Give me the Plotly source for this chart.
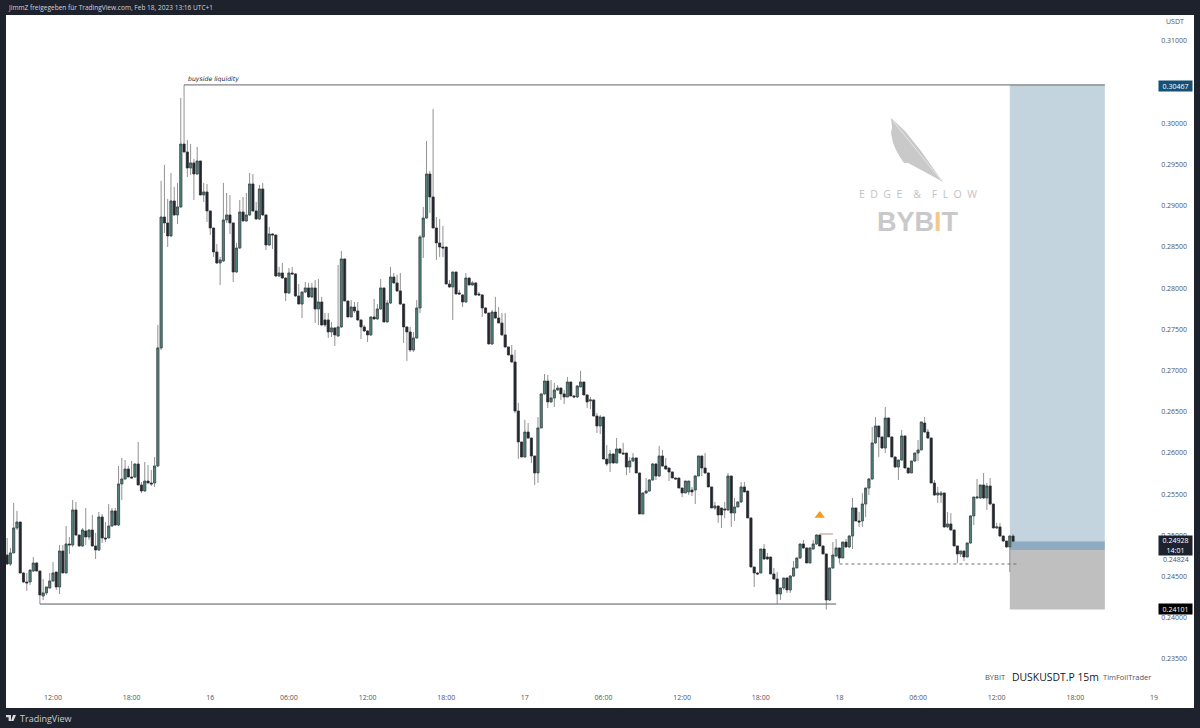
import pandas as pd
import plotly.graph_objects as go

opens = [
.24762,.24653,.24787,.25090,.25163,.24544,.24435,.24435,.24568,.24665,
.24568,.24265,.24302,.24362,.24447,.24556,.24374,.24811,.24544,.24896,
.24884,.25309,.25005,.24872,.25054,.24981,.25066,.24872,.24823,.25224,
.24969,.24969,.25114,.25297,.25126,.25624,.25685,.25806,.25709,.25709,
.25867,.25612,.25539,.25660,.25636,.25636,.25843,.27275,.28864,.28792,
.28634,.29059,.28889,.28986,.29750,.29653,.29459,.29520,.29386,.29544,
.29131,.29168,.28938,.28731,.28440,.28306,.28331,.28828,.28889,.28792,
.28197,.28488,.28925,.28816,.28889,.29265,.28938,.28840,.29204,.28889,
.28525,.28658,.28646,.28148,.28185,.28124,.27942,.28185,.28173,.27906,
.27808,.27954,.28003,.27894,.28003,.27748,.27833,.27615,.27615,.27469,
.27518,.27420,.27530,.28355,.27845,.27651,.27772,.27724,.27615,.27530,
.27481,.27433,.27651,.27627,.27748,.28003,.27590,.27820,.28136,.28064,
.27967,.27808,.27530,.27469,.27250,.27396,.27760,.28622,.28852,.29386,
.29107,.28731,.28549,.28500,.28500,.28051,.28015,.28197,.27942,.27918,
.27833,.28124,.28039,.28064,.27930,.27918,.27760,.27699,.27323,.27711,
.27639,.27578,.27433,.27287,.27189,.27105,.26510,.26134,.25952,.26255,
.26182,.25964,.25758,.26304,.26717,.26874,.26620,.26668,.26765,.26789,
.26717,.26680,.26862,.26692,.26680,.26801,.26862,.26705,.26632,.26644,
.26449,.26328,.26437,.25927,.25879,.25988,.25879,.26049,.26000,.26000,
.25830,.25903,.25940,.25758,.25260,.25515,.25539,.25673,.25867,.25721,
.25964,.25843,.25818,.25770,.25697,.25697,.25575,.25515,.25527,.25551,
.25551,.25721,.25964,.25818,.25758,.25588,.25333,.25357,.25333,.25321,
.25309,.25721,.25272,.25345,.25406,.25588,.25539,.25212,.24617,.24544,
.24544,.24835,.24738,.24738,.24532,.24471,.24289,.24362,.24483,.24338,
.24507,.24605,.24726,.24896,.24848,.24665,.24835,.24896,.25005,.24872,
.24775,.24216,.24605,.24750,.24848,.24726,.24920,.24860,.24993,.25333,
.25175,.25175,.25381,.25575,.25685,.26122,.26328,.26195,.26061,.26425,
.26195,.25952,.25830,.25915,.26207,.25818,.25758,.25903,.26000,.26037,
.26364,.26255,.26182,.25636,.25490,.25490,.25515,.25103,.25139,.25066,
.24872,.24775,.24811,.24738,.24908,.25236,.25454,.25454,.25612,.25454,
.25600,.25381,.25090,.25103,.24993,.24932,.24860,.24993]

highs = [
.24969,.24848,.25394,.25297,.25163,.24556,.24544,.24580,.24738,.24677,
.24568,.24471,.24374,.24544,.24677,.24556,.24884,.24884,.25114,.24981,
.25430,.25406,.25005,.25090,.25333,.25066,.25248,.25029,.25284,.25260,
.25163,.25381,.25333,.25333,.25843,.25940,.25915,.25843,.25903,.25867,
.26134,.25648,.25891,.25855,.25794,.25952,.27554,.29302,.29496,.29083,
.29398,.29228,.29277,.30309,.30467,.29799,.29750,.29568,.29714,.29544,
.29277,.29265,.28938,.28731,.28537,.28379,.29277,.29156,.29131,.28792,
.28549,.29071,.29107,.29156,.29398,.29386,.29047,.29253,.29277,.28889,
.28743,.28670,.28646,.28258,.28306,.28124,.28246,.28258,.28185,.28051,
.27954,.28076,.28064,.28064,.28100,.28112,.27894,.27699,.27699,.27590,
.27530,.28282,.28452,.28355,.27845,.27857,.27833,.27833,.27615,.27554,
.27493,.27651,.27869,.27808,.28112,.28003,.27857,.28258,.28185,.28161,
.28185,.27808,.27530,.27530,.27469,.27857,.28646,.28986,.29787,.29423,
.30175,.28864,.28840,.28755,.28500,.28100,.28197,.28197,.27979,.27930,
.28185,.28124,.28088,.28076,.27954,.27930,.27772,.27699,.27736,.27894,
.27772,.27699,.27699,.27287,.27311,.27250,.26607,.26134,.26401,.26364,
.26182,.25964,.26437,.26717,.26959,.26947,.26886,.26850,.26825,.26789,
.26765,.26923,.26862,.26705,.26825,.26996,.26862,.26705,.26680,.26644,
.26486,.26461,.26437,.26097,.26037,.26000,.26182,.26061,.26122,.26000,
.25952,.26000,.25940,.25758,.25515,.25697,.25685,.25879,.25879,.26085,
.26037,.25940,.25818,.25770,.25697,.25697,.25575,.25660,.25660,.25588,
.25733,.25964,.25964,.26000,.25758,.25588,.25406,.25357,.25333,.25406,
.25758,.25721,.25454,.25406,.25648,.25648,.25539,.25212,.24617,.24556,
.24835,.24896,.24787,.24738,.24605,.24556,.24362,.24483,.24495,.24520,
.24690,.24726,.24896,.24945,.24848,.24848,.24945,.25017,.25005,.24872,
.24775,.24605,.24920,.24957,.24848,.24920,.24957,.25005,.25454,.25333,
.25284,.25515,.25575,.25697,.26316,.26437,.26328,.26195,.26558,.26425,
.26195,.25952,.25915,.26279,.26207,.25818,.25903,.26000,.26158,.26377,
.26437,.26291,.26182,.25673,.25588,.25539,.25515,.25284,.25272,.25066,
.24872,.24811,.24811,.24908,.25248,.25466,.25685,.25612,.25758,.25636,
.25697,.25381,.25151,.25151,.24993,.24932,.24993,.25017]

lows = [
.24641,.24629,.24787,.25066,.24544,.24423,.24326,.24399,.24556,.24568,
.24167,.24216,.24277,.24350,.24435,.24338,.24289,.24544,.24544,.24775,
.24860,.24993,.24860,.24860,.24884,.24945,.24860,.24714,.24811,.24908,
.24920,.24969,.25103,.25114,.25114,.25430,.25673,.25709,.25697,.25697,
.25612,.25515,.25527,.25636,.25600,.25588,.25830,.27250,.28670,.28500,
.28622,.28877,.28780,.28974,.29653,.29350,.29374,.29071,.29374,.29131,
.29047,.28804,.28646,.28379,.28294,.28039,.28318,.28792,.28658,.28076,
.28185,.28476,.28816,.28804,.28877,.28925,.28828,.28828,.28877,.28464,
.28512,.28476,.28136,.28136,.28112,.27845,.27930,.28161,.27894,.27808,
.27639,.27942,.27882,.27882,.27578,.27554,.27542,.27530,.27396,.27408,
.27299,.27408,.27518,.27845,.27651,.27651,.27699,.27603,.27384,.27469,
.27348,.27420,.27615,.27615,.27736,.27590,.27590,.27808,.28051,.27954,
.27796,.27335,.27117,.27226,.27226,.27384,.27699,.28367,.28840,.28913,
.28731,.28343,.28379,.28379,.28051,.28003,.27615,.27930,.27918,.27772,
.27820,.28039,.28027,.27906,.27906,.27651,.27687,.27323,.27311,.27627,
.27578,.27420,.27275,.27189,.27092,.26486,.25927,.25952,.25940,.26170,
.25879,.25612,.25636,.26304,.26705,.26547,.26607,.26558,.26753,.26644,
.26595,.26680,.26692,.26668,.26668,.26801,.26705,.26547,.26534,.26449,
.26243,.26231,.25927,.25843,.25770,.25867,.25879,.25988,.25988,.25733,
.25758,.25891,.25758,.25260,.25260,.25503,.25527,.25660,.25673,.25709,
.25830,.25794,.25660,.25697,.25673,.25575,.25466,.25515,.25490,.25478,
.25381,.25721,.25721,.25746,.25588,.25333,.25309,.25151,.25090,.25212,
.25297,.25103,.25175,.25345,.25394,.25527,.25212,.24617,.24374,.24520,
.24544,.24702,.24702,.24532,.24459,.24167,.24216,.24338,.24302,.24302,
.24495,.24605,.24714,.24835,.24665,.24665,.24823,.24884,.24872,.24775,
.24101,.24204,.24592,.24738,.24665,.24726,.24848,.24848,.24835,.25175,
.25103,.25103,.25224,.25490,.25673,.26110,.25952,.26049,.26000,.26195,
.25952,.25818,.25673,.25903,.25818,.25746,.25758,.25891,.25903,.26037,
.26243,.26170,.25636,.25478,.25394,.25394,.25090,.25090,.25054,.24872,
.24665,.24738,.24690,.24738,.24896,.25126,.25442,.25442,.25442,.25309,
.25369,.25090,.25078,.24981,.24920,.24848,.24556,.24920]

closes = [
.24653,.24787,.25090,.25163,.24544,.24435,.24423,.24580,.24665,.24568,
.24277,.24302,.24374,.24447,.24544,.24374,.24811,.24544,.24896,.24884,
.25309,.25005,.24872,.25066,.24981,.25066,.24872,.24823,.25224,.24969,
.24957,.25114,.25297,.25126,.25624,.25685,.25806,.25709,.25697,.25867,
.25612,.25539,.25660,.25636,.25624,.25843,.27275,.28864,.28792,.28634,
.29059,.28889,.28986,.29750,.29653,.29459,.29520,.29386,.29544,.29131,
.29168,.28938,.28731,.28440,.28306,.28343,.28828,.28889,.28792,.28197,
.28488,.28925,.28816,.28889,.29265,.28938,.28840,.29204,.28889,.28525,
.28658,.28646,.28148,.28185,.28124,.27942,.28185,.28173,.27906,.27808,
.27954,.28003,.27894,.28003,.27748,.27833,.27554,.27554,.27469,.27518,
.27433,.27530,.28355,.27845,.27651,.27772,.27724,.27615,.27530,.27481,
.27433,.27651,.27627,.27748,.28003,.27590,.27820,.28136,.28064,.27967,
.27808,.27530,.27469,.27250,.27396,.27760,.28622,.28852,.29386,.29107,
.28731,.28549,.28500,.28488,.28051,.28015,.28197,.27930,.27930,.27833,
.28124,.28039,.28064,.27918,.27918,.27760,.27699,.27323,.27711,.27639,
.27578,.27433,.27287,.27189,.27105,.26510,.26134,.25952,.26255,.26182,
.25964,.25758,.26304,.26717,.26874,.26620,.26668,.26765,.26789,.26717,
.26680,.26862,.26692,.26680,.26813,.26862,.26705,.26620,.26644,.26449,
.26328,.26437,.25927,.25867,.25988,.25879,.26049,.26000,.25988,.25830,
.25903,.25940,.25758,.25260,.25515,.25539,.25673,.25867,.25721,.25964,
.25843,.25806,.25770,.25697,.25685,.25575,.25515,.25660,.25660,.25527,
.25721,.25964,.25818,.25758,.25588,.25333,.25357,.25248,.25248,.25309,
.25721,.25272,.25345,.25406,.25588,.25527,.25212,.24617,.24544,.24532,
.24835,.24714,.24714,.24532,.24471,.24289,.24362,.24483,.24338,.24507,
.24605,.24726,.24896,.24848,.24665,.24848,.24896,.25005,.24872,.24775,
.24216,.24605,.24762,.24848,.24726,.24920,.24860,.24993,.25333,.25175,
.25163,.25381,.25575,.25685,.26122,.26328,.26195,.26061,.26425,.26195,
.25952,.25830,.25915,.26207,.25818,.25758,.25903,.26000,.26037,.26377,
.26255,.26182,.25636,.25490,.25515,.25515,.25103,.25139,.25066,.24872,
.24775,.24811,.24738,.24908,.25236,.25466,.25466,.25612,.25454,.25600,
.25381,.25090,.25103,.24993,.24932,.24860,.24993,.24928]

price_ticks = [0.31, 0.30, 0.295, 0.29, 0.285, 0.28, 0.275, 0.27, 0.265,
               0.26, 0.255, 0.25, 0.245, 0.24, 0.235]
time_ticks = ["2023-02-15 12:00", "2023-02-15 18:00", "2023-02-16 00:00", "2023-02-16 06:00",
              "2023-02-16 12:00", "2023-02-16 18:00", "2023-02-17 00:00", "2023-02-17 06:00",
              "2023-02-17 12:00", "2023-02-17 18:00", "2023-02-18 00:00", "2023-02-18 06:00",
              "2023-02-18 12:00", "2023-02-18 18:00", "2023-02-19 00:00"]
time_labels = ["12:00", "18:00", "16", "06:00", "12:00", "18:00", "17", "06:00",
               "12:00", "18:00", "18", "06:00", "12:00", "18:00", "19"]

times = pd.date_range(end="2023-02-18 13:15", periods=len(closes), freq="15min")

UP_FILL, DOWN_FILL, BORDER, WICK = "#4f837a", "#23262d", "#2a2f36", "#919191"
FRAME, AXIS_TEXT = "#1e222d", "#50535e"
FONT = "Open Sans"

W, H = 1200, 728
L, R, T, B = 6, 1194, 15, 708
def fx(px): return (px - L) / (R - L)
def fy(py): return (B - py) / (B - T)
def path(points):
    return "M" + " L".join(f"{fx(a):.5f},{fy(b):.5f}" for a, b in points) + " Z"

fig = go.Figure()
# wicks
fig.add_trace(go.Candlestick(
    x=times, open=opens, high=highs, low=lows, close=closes, whiskerwidth=0,
    increasing=dict(line=dict(color=WICK, width=1), fillcolor=WICK),
    decreasing=dict(line=dict(color=WICK, width=1), fillcolor=WICK),
    hoverinfo="skip", showlegend=False))
# bodies
fig.add_trace(go.Candlestick(
    x=times, open=opens, close=closes,
    high=[max(a, b) for a, b in zip(opens, closes)],
    low=[min(a, b) for a, b in zip(opens, closes)], whiskerwidth=0,
    increasing=dict(line=dict(color=BORDER, width=0.45), fillcolor=UP_FILL),
    decreasing=dict(line=dict(color=BORDER, width=0.45), fillcolor=DOWN_FILL),
    showlegend=False))
# orange marker
fig.add_trace(go.Scatter(x=["2023-02-17 22:30"], y=[0.25240], mode="markers",
                         marker=dict(symbol="triangle-up", size=9, color="#f59a1f"),
                         hoverinfo="skip", showlegend=False))

BOX_L, BOX_R = "2023-02-18 13:00", "2023-02-18 20:15"
TP, ENTRY, MID, SL = 0.30467, 0.24928, 0.24824, 0.24101
shapes = [
    dict(type="rect", x0=BOX_L, x1=BOX_R, y0=ENTRY, y1=TP, fillcolor="#c3d4df", line_width=0, layer="below"),
    dict(type="rect", x0=BOX_L, x1=BOX_R, y0=MID, y1=ENTRY, fillcolor="#8fabc2", line_width=0, layer="below"),
    dict(type="rect", x0=BOX_L, x1=BOX_R, y0=SL, y1=MID, fillcolor="#bfbfbf", line_width=0, layer="below"),
    dict(type="line", x0="2023-02-15 22:00", x1=BOX_R, y0=TP, y1=TP, line=dict(color="#3a3d45", width=0.8)),
    dict(type="line", x0="2023-02-15 11:00", x1="2023-02-17 23:45", y0=0.24167, y1=0.24167,
         line=dict(color="#55585f", width=1)),
    dict(type="line", x0="2023-02-18 00:00", x1="2023-02-18 13:45", y0=0.24653, y1=0.24653,
         line=dict(color="#6a6d73", width=1, dash="3px,3px")),
    dict(type="line", x0="2023-02-17 22:30", x1="2023-02-17 23:30", y0=0.25017, y1=0.25017,
         line=dict(color="#b58f84", width=1)),
    # feather watermark
    dict(type="path", xref="paper", yref="paper", line_width=0, fillcolor="#c9c9c9",
         path=path([(891, 118), (905, 131), (921, 151), (933, 168), (943, 182), (925, 172), (908, 163),
                    (904, 163), (900, 157), (896, 150), (893, 143), (891, 133), (892, 127)])),
    dict(type="line", xref="paper", yref="paper", x0=fx(893), x1=fx(941), y0=fy(121), y1=fy(180),
         line=dict(color="#f2f2f2", width=0.7)),
    # TradingView logo
    dict(type="path", xref="paper", yref="paper", line_width=0, fillcolor="#d8dade",
         path=path([(6, 715), (11, 715), (11, 721), (8.6, 721), (8.6, 717.3), (6, 717.3)])),
    dict(type="path", xref="paper", yref="paper", line_width=0, fillcolor="#d8dade",
         path=path([(13, 715), (16, 715), (13.5, 721), (11, 721)])),
]

def note(text, px, py, size=7, color=AXIS_TEXT, anchor="left", **kw):
    return dict(text=text, x=fx(px), y=fy(py), xref="paper", yref="paper", xanchor=anchor, yanchor="middle",
                showarrow=False, font=dict(family=kw.pop("family", FONT), size=size, color=color), **kw)

def price_box(text, py, bg, height=10):
    return note(text, 1175.5, py, size=7, color="#ffffff", anchor="center", bgcolor=bg,
                width=33, height=height, borderpad=0)

annotations = [
    note("JimmZ freigegeben für TradingView.com, Feb 18, 2023 13:16 UTC+1", 6, 8, size=6.55, color="#d1d4dc"),
    note("TradingView", 18, 718, size=9, color="#c8cbd2"),
    note("<i>buyside liquidity</i>", 186, 79, size=6.2, color="#1f232c", family="DejaVu Sans"),
    note("USDT", 1164, 22, size=7),
    note("0.24824", 1176, 559, size=7, anchor="center"),
    price_box("0.30467", 85.5, "#135274"),
    price_box("0.24928<br>14:01", 545, "#1e222d", height=19),
    price_box("0.24101", 609, "#000000"),
    note("BYBIT", 983, 677, size=7.5, color="#50535e"),
    note("DUSKUSDT.P 15m", 1010, 677, size=10.4, color="#131722"),
    note("TimFoilTrader", 1101, 677, size=7.5, color="#50535e"),
    note("E  D  G  E    &    F  L  O  W", 917.5, 194, size=10.5, color="#c2c2c2", anchor="center"),
    note('<b>BYB<span style="color:#f3c98b">I</span>T</b>', 917.5, 222, size=27, color="#c9c9c9",
         anchor="center", family="Liberation Sans"),
]

px_to_hours = 1 / 13.107
x0 = pd.Timestamp("2023-02-15 12:00") + pd.Timedelta(hours=(L - 53) * px_to_hours)
x1 = pd.Timestamp("2023-02-15 12:00") + pd.Timedelta(hours=(R - 53) * px_to_hours)
y_top = 0.31 + (41 - T) / 8240
y_bottom = 0.31 - (B - 41) / 8240

fig.update_layout(
    width=W, height=H, autosize=False,
    margin=dict(l=L, r=W - R, t=T, b=H - B, pad=0),
    paper_bgcolor=FRAME, plot_bgcolor="#ffffff", boxgap=0.08,
    showlegend=False, hovermode=False, shapes=shapes, annotations=annotations,
    font=dict(family=FONT, size=7, color=AXIS_TEXT),
    xaxis=dict(type="date", range=[x0, x1], tickmode="array", tickvals=time_ticks, ticktext=time_labels,
               ticklabelposition="inside", ticks="", showgrid=False, zeroline=False, showline=False,
               rangeslider=dict(visible=False), tickfont=dict(size=7, color=AXIS_TEXT), ticklabelstandoff=4),
    yaxis=dict(side="right", range=[y_bottom, y_top], tickmode="array", tickvals=price_ticks,
               ticktext=[f"{v:.5f}" for v in price_ticks], ticklabelposition="inside", ticks="",
               showgrid=False, zeroline=False, showline=False,
               tickfont=dict(size=7, color=AXIS_TEXT), ticklabelstandoff=4),
)

fig.write_html("out.html", config=dict(displayModeBar=False),
               post_script="document.body.style.margin='0';document.body.style.overflow='hidden';")
